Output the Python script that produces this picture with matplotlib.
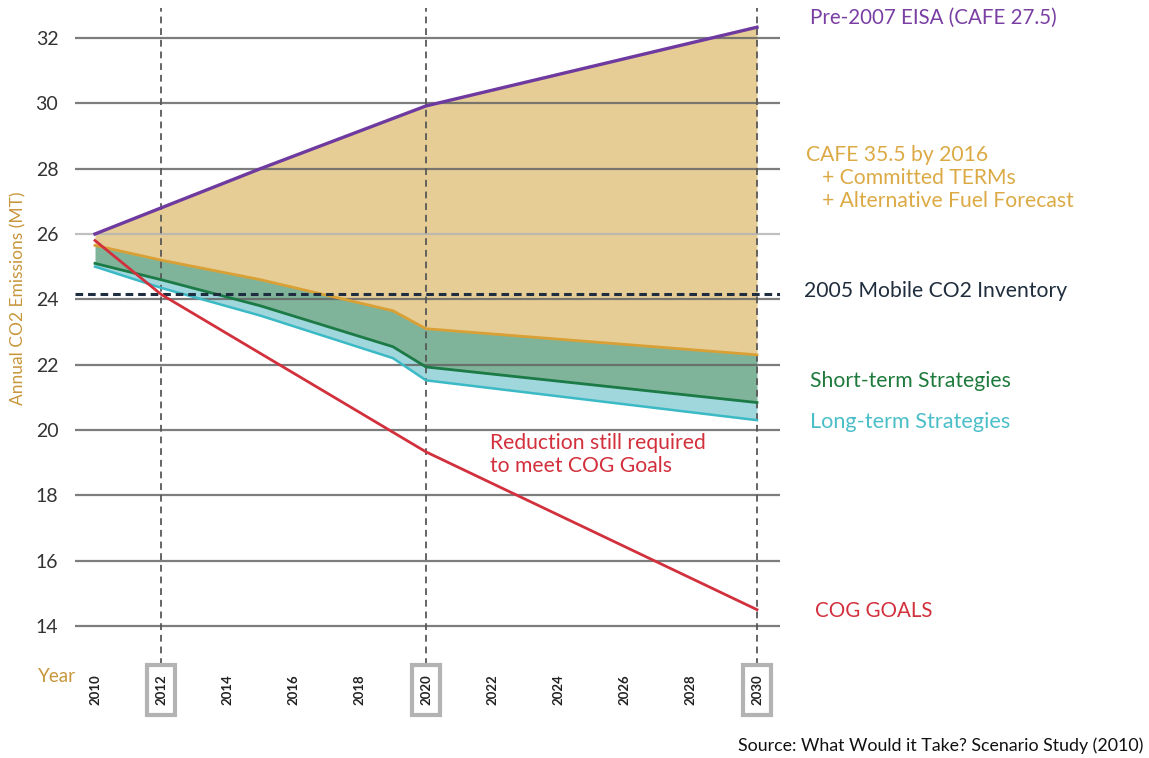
import matplotlib
matplotlib.use("Agg")
import matplotlib.pyplot as plt
from matplotlib.patches import Rectangle
import matplotlib.transforms as mtransforms
import numpy as np

plt.rcParams['font.family'] = ['Lato', 'DejaVu Sans']

# ---------------- data ----------------
eisa_years = [2010, 2015, 2020, 2030]
eisa_vals = [26.0, 28.0, 29.92, 32.33]

band_years = [2010, 2012, 2015, 2019, 2020, 2030]
cafe_vals = [25.65, 25.2, 24.6, 23.65, 23.1, 22.3]
short_vals = [25.1, 24.6, 23.8, 22.55, 21.93, 20.84]
long_vals = [25.0, 24.35, 23.5, 22.2, 21.52, 20.3]

cog_years = [2010, 2012, 2020, 2030]
cog_vals = [25.8, 24.15, 19.33, 14.5]

inventory_2005 = 24.17

year_ticks = list(range(2010, 2031, 2))
boxed_years = [2012, 2020, 2030]
y_ticks = list(range(14, 33, 2))

# ---------------- figure ----------------
W, H = 1149, 758
fig = plt.figure(figsize=(W / 100, H / 100), dpi=100)
ax = fig.add_axes([75 / W, 1 - 665 / H, (780 - 75) / W, (665 - 8) / H])
x0, x1 = 2010 - 20 / 33.1, 2030 + 23 / 33.1
ax.set_xlim(x0, x1)
ax.set_ylim(12.806, 32.918)
for s in ax.spines.values():
    s.set_visible(False)

tan = '#e6cd95'
green_fill = '#80b49a'
cyan_fill = '#9fd7dd'

# fills
ax.fill_between(eisa_years, eisa_vals, np.interp(eisa_years, band_years, cafe_vals),
                color=tan, lw=0, zorder=1)
ax.fill_between(band_years, cafe_vals, short_vals, color=green_fill, lw=0, zorder=1.1)
ax.fill_between(band_years, short_vals, long_vals, color=cyan_fill, lw=0, zorder=1.1)

# horizontal gridlines
ax.set_yticks(y_ticks)
ax.set_yticklabels([str(v) for v in y_ticks], fontsize=14, color='#333333')
ax.grid(axis='y', color='#666666', lw=1.6, alpha=0.85, zorder=2)
ax.set_axisbelow(False)
for v, gl in zip(y_ticks, ax.get_ygridlines()):
    if v == 26:
        gl.set_color('#b5b5b5')
ax.tick_params(axis='y', length=0, pad=12)

# vertical dashed lines
for yr in boxed_years:
    ax.axvline(yr, color='#555555', lw=1.4, ls=(0, (3.5, 2.5)), alpha=0.9, zorder=3)

# series lines
ax.plot(band_years, long_vals, color='#3bb9c5', lw=1.8, zorder=4)
ax.plot(band_years, short_vals, color='#1b7a45', lw=2.0, zorder=4)
ax.plot(band_years, cafe_vals, color='#d9a035', lw=2.0, zorder=4)
ax.plot(eisa_years, eisa_vals, color='#6f3a9f', lw=2.4, zorder=5)
ax.axhline(inventory_2005, color='#1e2d40', lw=2.2, ls=(0, (2.5, 1.6)), zorder=5)
ax.plot(cog_years, cog_vals, color='#d2303c', lw=2.0, zorder=6)

# x tick labels
ax.set_xticks(year_ticks)
ax.set_xticklabels([str(y) for y in year_ticks], rotation=90, fontsize=9.5,
                   fontweight='bold', color='#222222')
ax.tick_params(axis='x', length=0, pad=7)

# boxes around key years
trans = mtransforms.blended_transform_factory(ax.transData, ax.transAxes)
for yr in boxed_years:
    ax.add_patch(Rectangle((yr - 0.42, -0.076), 0.84, 0.076, transform=trans,
                           fill=False, ec='#b3b3b3', lw=3, clip_on=False, zorder=7))

# axis texts
fig.text(18 / W, 1 - 298 / H, 'Annual CO2 Emissions (MT)', rotation=90,
         color='#c8963c', fontsize=12.5, ha='center', va='center')
fig.text(38 / W, 1 - 677 / H, 'Year', color='#c8963c', fontsize=13.5,
         ha='left', va='center')

# annotations on the right
fs = 15.2
fig.text(810 / W, 1 - 18 / H, 'Pre-2007 EISA (CAFE 27.5)', color='#7a3fa3',
         fontsize=14.8, ha='left', va='center')
fig.text(806 / W, 1 - 155 / H, 'CAFE 35.5 by 2016', color='#dcaa45',
         fontsize=fs, ha='left', va='center')
fig.text(822 / W, 1 - 178 / H, '+ Committed TERMs', color='#dcaa45',
         fontsize=fs, ha='left', va='center')
fig.text(822 / W, 1 - 201 / H, '+ Alternative Fuel Forecast', color='#dcaa45',
         fontsize=fs, ha='left', va='center')
fig.text(804 / W, 1 - 291 / H, '2005 Mobile CO2 Inventory', color='#1f2d3d',
         fontsize=fs, ha='left', va='center')
fig.text(810 / W, 1 - 381 / H, 'Short-term Strategies', color='#1e7a3c',
         fontsize=fs, ha='left', va='center')
fig.text(810 / W, 1 - 422 / H, 'Long-term Strategies', color='#4bbfc8',
         fontsize=15.6, ha='left', va='center')
fig.text(815 / W, 1 - 611 / H, 'COG GOALS', color='#d2303c',
         fontsize=14.8, ha='left', va='center')
fig.text(490 / W, 1 - 443 / H, 'Reduction still required', color='#d2303c',
         fontsize=15.2, ha='left', va='center')
fig.text(490 / W, 1 - 466 / H, 'to meet COG Goals', color='#d2303c',
         fontsize=15.2, ha='left', va='center')
fig.text(1143 / W, 1 - 746 / H, 'Source: What Would it Take? Scenario Study (2010)',
         color='#111111', fontsize=12.8, ha='right', va='center')

fig.savefig('out.png', dpi=100, facecolor='white')
